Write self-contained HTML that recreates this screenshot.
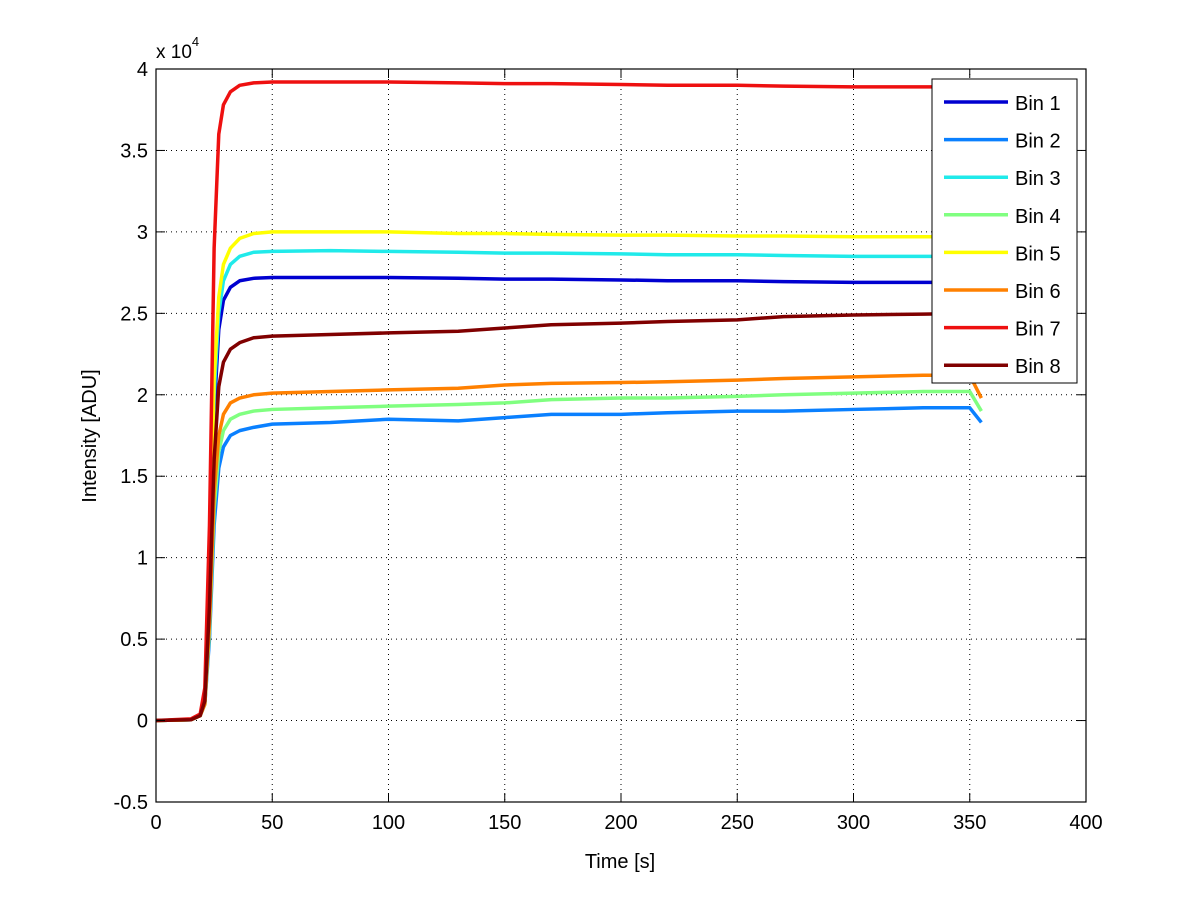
<!DOCTYPE html>
<html><head><meta charset="utf-8"><style>
body{margin:0;background:#fff;}
svg text{font-family:"Liberation Sans",Arial,sans-serif;fill:#000;}
</style></head><body>
<svg id="chart" width="1200" height="901" viewBox="0 0 1200 901" xmlns="http://www.w3.org/2000/svg">
<rect width="1200" height="901" fill="#fff"/>
<g id="grid"></g>
<g id="series"></g>
<rect x="156" y="69" width="930" height="733" fill="none" stroke="#000" stroke-width="1.2"/>
<g id="ticks"></g>
<text x="156" y="58" font-size="19">x 10<tspan font-size="13" dy="-12">4</tspan></text>
<text x="620" y="868" font-size="20" text-anchor="middle">Time [s]</text>
<text transform="translate(96,436) rotate(-90)" font-size="20" text-anchor="middle">Intensity [ADU]</text>
<g id="legend"></g>
</svg>
<script>
const xTicks=[0,50,100,150,200,250,300,350,400];
const yTicks=[-0.5,0,0.5,1,1.5,2,2.5,3,3.5,4];
const yTickLabels=["-0.5","0","0.5","1","1.5","2","2.5","3","3.5","4"];
const seriesNames=["Bin 1","Bin 2","Bin 3","Bin 4","Bin 5","Bin 6","Bin 7","Bin 8"];
const seriesColors=["#0000d0","#0a80ff","#20eaea","#80ff80","#ffff00","#ff8000","#ee1010","#800000"];
const time=[0,15,19,21,23,25,27,29,32,36,42,50,75,100,130,150,170,200,220,250,270,300,330,350,355];
const bin1=[0,0.005,0.03,0.13,0.8,1.9,2.4,2.58,2.66,2.7,2.715,2.72,2.72,2.72,2.715,2.71,2.71,2.705,2.7,2.7,2.695,2.69,2.69,2.69,2.62];
const bin2=[0,0.005,0.03,0.1,0.5,1.2,1.55,1.68,1.75,1.78,1.8,1.82,1.83,1.85,1.84,1.86,1.88,1.88,1.89,1.9,1.9,1.91,1.92,1.92,1.83];
const bin3=[0,0.005,0.03,0.14,0.85,2.0,2.5,2.7,2.8,2.85,2.875,2.88,2.885,2.88,2.875,2.87,2.87,2.865,2.86,2.86,2.855,2.85,2.85,2.85,2.78];
const bin4=[0,0.005,0.03,0.1,0.55,1.3,1.65,1.78,1.85,1.88,1.9,1.91,1.92,1.93,1.94,1.95,1.97,1.98,1.98,1.99,2.0,2.01,2.02,2.02,1.9];
const bin5=[0,0.005,0.03,0.15,0.9,2.1,2.6,2.8,2.9,2.96,2.99,3.0,3.0,3.0,2.99,2.99,2.985,2.98,2.98,2.975,2.975,2.97,2.97,2.97,2.9];
const bin6=[0,0.005,0.03,0.1,0.6,1.4,1.75,1.88,1.95,1.98,2.0,2.01,2.02,2.03,2.04,2.06,2.07,2.075,2.08,2.09,2.1,2.11,2.12,2.12,1.98];
const bin7=[0,0.01,0.04,0.2,1.2,2.9,3.6,3.78,3.86,3.9,3.915,3.92,3.92,3.92,3.915,3.91,3.91,3.905,3.9,3.9,3.895,3.89,3.89,3.89,3.85];
const bin8=[0,0.005,0.03,0.12,0.7,1.6,2.05,2.2,2.28,2.32,2.35,2.36,2.37,2.38,2.39,2.41,2.43,2.44,2.45,2.46,2.48,2.49,2.495,2.5,2.45];
const allSeries=[bin1,bin2,bin3,bin4,bin5,bin6,bin7,bin8];

const NS="http://www.w3.org/2000/svg";
const X0=156,X1=1086,Y0=802,Y1=69;
function xs(v){return X0+(v-0)/(400-0)*(X1-X0);}
function ys(v){return Y0-(v-(-0.5))/(4-(-0.5))*(Y0-Y1);}
function mk(tag,parent){const e=document.createElementNS(NS,tag);parent.appendChild(e);return e;}
const grid=document.getElementById('grid'),ticks=document.getElementById('ticks');
xTicks.forEach(t=>{
  const x=xs(t);
  if(t>0&&t<400){const g=mk('line',grid);
    
    
    g.setAttribute('x1',x);g.setAttribute('x2',x);g.setAttribute('y1',Y1);g.setAttribute('y2',Y0);
    g.setAttribute('stroke','#000');g.setAttribute('stroke-width','1');g.setAttribute('stroke-dasharray','1 4');}
  const tk=mk('line',ticks);
  
  
  tk.setAttribute('x1',x);tk.setAttribute('x2',x);tk.setAttribute('y1',Y0);tk.setAttribute('y2',Y0-9);tk.setAttribute('stroke','#000');
  const tk2=mk('line',ticks);
  
  
  tk2.setAttribute('x1',x);tk2.setAttribute('x2',x);tk2.setAttribute('y1',Y1);tk2.setAttribute('y2',Y1+9);tk2.setAttribute('stroke','#000');
  const l=mk('text',ticks);
  
  
  l.setAttribute('x',x);l.setAttribute('y',Y0+27);l.setAttribute('font-size','20');l.setAttribute('text-anchor','middle');
  l.textContent=t;
});
yTicks.forEach((t,i)=>{
  const y=ys(t);
  if(t>-0.5&&t<4){const g=mk('line',grid);
    
    
    g.setAttribute('x1',X0);g.setAttribute('x2',X1);g.setAttribute('y1',y);g.setAttribute('y2',y);
    g.setAttribute('stroke','#000');g.setAttribute('stroke-width','1');g.setAttribute('stroke-dasharray','1 4');}
  const tk=mk('line',ticks);
  
  
  tk.setAttribute('x1',X0);tk.setAttribute('x2',X0+9);tk.setAttribute('y1',y);tk.setAttribute('y2',y);tk.setAttribute('stroke','#000');
  const tk2=mk('line',ticks);
  
  
  tk2.setAttribute('x1',X1);tk2.setAttribute('x2',X1-9);tk2.setAttribute('y1',y);tk2.setAttribute('y2',y);tk2.setAttribute('stroke','#000');
  const l=mk('text',ticks);
  
  
  l.setAttribute('x',X0-8);l.setAttribute('y',y+7);l.setAttribute('font-size','20');l.setAttribute('text-anchor','end');
  l.textContent=yTickLabels[i];
});
const sg=document.getElementById('series');
allSeries.forEach((vals,i)=>{
  const p=mk('polyline',sg);
  
  
  p.setAttribute('points',vals.map((v,j)=>xs(time[j])+','+ys(v)).join(' '));
  p.setAttribute('fill','none');p.setAttribute('stroke',seriesColors[i]);
  p.setAttribute('stroke-width','3.5');p.setAttribute('stroke-linejoin','round');
});
const lg=document.getElementById('legend');
const box=mk('rect',lg);


box.setAttribute('x',932);box.setAttribute('y',79);box.setAttribute('width',145);box.setAttribute('height',304);
box.setAttribute('fill','#fff');box.setAttribute('stroke','#000');
seriesNames.forEach((n,i)=>{
  const y=102+i*37.6;
  const ln=mk('line',lg);
  
  
  ln.setAttribute('x1',944);ln.setAttribute('x2',1008);ln.setAttribute('y1',y);ln.setAttribute('y2',y);
  ln.setAttribute('stroke',seriesColors[i]);ln.setAttribute('stroke-width','3.5');
  const t=mk('text',lg);
  
  
  t.setAttribute('x',1015);t.setAttribute('y',y+8);t.setAttribute('font-size','20');
  t.textContent=n;
});
</script>
</body></html>
